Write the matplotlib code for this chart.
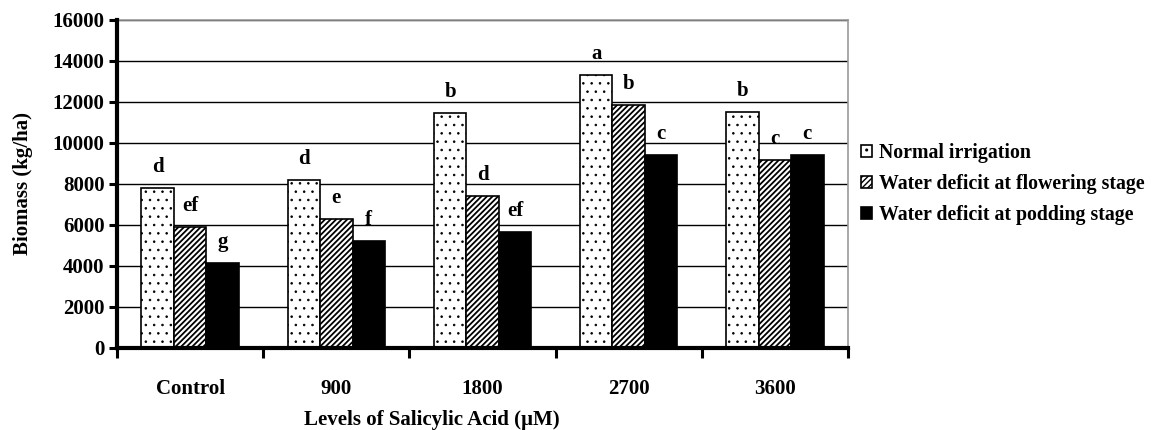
import numpy as np
import matplotlib
matplotlib.use('Agg')
from matplotlib import pyplot as plt
from matplotlib.ticker import FixedLocator

categories = ['Control', '900', '1800', '2700', '3600']
series = ['Normal irrigation', 'Water deficit at flowering stage', 'Water deficit at podding stage']
normal = [7800, 8180, 11460, 13330, 11500]
flowering = [5920, 6300, 7400, 11850, 9150]
podding = [4150, 5200, 5650, 9430, 9430]
letters_normal = ['d', 'd', 'b', 'a', 'b']
letters_flowering = ['ef', 'e', 'd', 'b', 'c']
letters_podding = ['g', 'f', 'ef', 'c', 'c']

plt.rcParams['font.family'] = ['Liberation Serif', 'DejaVu Serif']
plt.rcParams['font.weight'] = 'bold'

fig = plt.figure(figsize=(11.61, 4.30), dpi=100)
ax = fig.add_axes([0.1008, 0.1907, 0.6296, 0.7628])

x = np.arange(len(categories))
w = 0.222
values = [normal, flowering, podding]
letters = [letters_normal, letters_flowering, letters_podding]
styles = [dict(color='white', hatch='..', hlw=0.6),
          dict(color='white', hatch='//////', hlw=1.3),
          dict(color='black', hatch=None, hlw=1.0)]

handles = []
for i, (vals, st) in enumerate(zip(values, styles)):
    with plt.rc_context({'hatch.linewidth': st['hlw']}):
        bars = ax.bar(x + (i - 1) * w, vals, w, facecolor=st['color'], edgecolor='black',
                      hatch=st['hatch'], linewidth=1.2, zorder=3, label=series[i])
    for p in bars:
        if hasattr(p, 'set_hatch_linewidth'):
            p.set_hatch_linewidth(st['hlw'])
    handles.append(bars)
    for b, lab in zip(bars, letters[i]):
        ax.annotate(lab, (b.get_x() + b.get_width() / 2, b.get_height()),
                    xytext=(0, 8), textcoords='offset points', ha='center', va='bottom',
                    fontsize=15, fontweight='bold')

ax.set_xlim(-0.5, len(categories) - 0.5)
ax.set_ylim(0, 16000)
ax.set_yticks(np.arange(0, 16001, 2000))
ax.yaxis.grid(True, color='black', linewidth=1, zorder=0)
ax.set_axisbelow(True)

ax.set_xticks(x)
ax.set_xticklabels(categories)
ax.xaxis.set_minor_locator(FixedLocator(np.arange(-0.5, len(categories), 1.0)))
ax.tick_params(axis='x', which='major', length=0, pad=22, labelsize=15)
ax.tick_params(axis='x', which='minor', length=7, width=2.2, direction='out')
ax.tick_params(axis='y', length=6, width=2.2, direction='out', labelsize=15, pad=3)

for s in ['left', 'bottom']:
    ax.spines[s].set_linewidth(3)
    ax.spines[s].set_color('black')
    ax.spines[s].set_zorder(5)
for s in ['top', 'right']:
    ax.spines[s].set_linewidth(1.2)
    ax.spines[s].set_color('#999999')

ax.set_ylabel('Biomass (kg/ha)', fontsize=15, fontweight='bold', labelpad=14)
ax.set_xlabel('Levels of Salicylic Acid (\u00b5M)', fontsize=15, fontweight='bold')
ax.xaxis.set_label_coords(0.43, -0.19)

fig.legend(handles=handles, loc='upper left', bbox_to_anchor=(0.735, 0.685), frameon=False,
           fontsize=14.3, handlelength=0.55, handleheight=0.55, handletextpad=0.35,
           labelspacing=0.55, borderaxespad=0)

fig.savefig('out.png', dpi=100)
